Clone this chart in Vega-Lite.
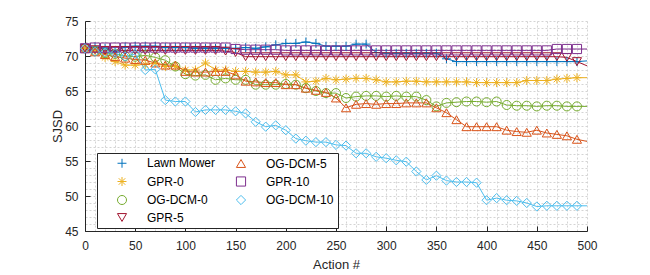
{
  "$schema": "https://vega.github.io/schema/vega-lite/v6.json",
  "width": 502,
  "height": 210,
  "autosize": {"type": "none"},
  "padding": {"left": 85, "top": 21, "right": 63, "bottom": 44},
  "background": "white",
  "config": {"view": {"stroke": null}, "font": "Liberation Sans"},
  "data": {"values": [
    {"s":"Lawn Mower","x":0,"y":71.1},{"s":"Lawn Mower","x":10,"y":71.3},{"s":"Lawn Mower","x":20,"y":71.1},{"s":"Lawn Mower","x":30,"y":70.6},{"s":"Lawn Mower","x":40,"y":71.3},{"s":"Lawn Mower","x":50,"y":71.4},{"s":"Lawn Mower","x":60,"y":71.4},{"s":"Lawn Mower","x":70,"y":71.4},{"s":"Lawn Mower","x":80,"y":71.2},{"s":"Lawn Mower","x":90,"y":71.2},{"s":"Lawn Mower","x":100,"y":71.2},{"s":"Lawn Mower","x":110,"y":71.1},{"s":"Lawn Mower","x":120,"y":71.1},{"s":"Lawn Mower","x":130,"y":71.1},{"s":"Lawn Mower","x":140,"y":71.1},{"s":"Lawn Mower","x":150,"y":71.1},{"s":"Lawn Mower","x":160,"y":71.2},{"s":"Lawn Mower","x":170,"y":71.1},{"s":"Lawn Mower","x":180,"y":71.3},{"s":"Lawn Mower","x":190,"y":71.6},{"s":"Lawn Mower","x":200,"y":71.8},{"s":"Lawn Mower","x":210,"y":71.8},{"s":"Lawn Mower","x":220,"y":72.0},{"s":"Lawn Mower","x":230,"y":71.8},{"s":"Lawn Mower","x":240,"y":71.4},{"s":"Lawn Mower","x":250,"y":71.4},{"s":"Lawn Mower","x":260,"y":71.4},{"s":"Lawn Mower","x":270,"y":71.7},{"s":"Lawn Mower","x":280,"y":71.7},{"s":"Lawn Mower","x":290,"y":70.5},{"s":"Lawn Mower","x":300,"y":70.4},{"s":"Lawn Mower","x":310,"y":70.4},{"s":"Lawn Mower","x":320,"y":70.4},{"s":"Lawn Mower","x":330,"y":70.4},{"s":"Lawn Mower","x":340,"y":70.4},{"s":"Lawn Mower","x":350,"y":70.4},{"s":"Lawn Mower","x":360,"y":69.6},{"s":"Lawn Mower","x":370,"y":69.2},{"s":"Lawn Mower","x":380,"y":69.2},{"s":"Lawn Mower","x":390,"y":69.2},{"s":"Lawn Mower","x":400,"y":69.2},{"s":"Lawn Mower","x":410,"y":69.2},{"s":"Lawn Mower","x":420,"y":69.2},{"s":"Lawn Mower","x":430,"y":69.2},{"s":"Lawn Mower","x":440,"y":69.2},{"s":"Lawn Mower","x":450,"y":69.2},{"s":"Lawn Mower","x":460,"y":69.2},{"s":"Lawn Mower","x":470,"y":69.2},{"s":"Lawn Mower","x":480,"y":69.2},{"s":"Lawn Mower","x":490,"y":69.2},{"s":"Lawn Mower","x":500,"y":69.3},
    {"s":"GPR-0","x":0,"y":71.1},{"s":"GPR-0","x":10,"y":70.7},{"s":"GPR-0","x":20,"y":69.8},{"s":"GPR-0","x":30,"y":69.2},{"s":"GPR-0","x":40,"y":68.7},{"s":"GPR-0","x":50,"y":68.7},{"s":"GPR-0","x":60,"y":68.8},{"s":"GPR-0","x":70,"y":69.0},{"s":"GPR-0","x":80,"y":68.5},{"s":"GPR-0","x":90,"y":68.5},{"s":"GPR-0","x":100,"y":68.0},{"s":"GPR-0","x":110,"y":68.0},{"s":"GPR-0","x":120,"y":69.0},{"s":"GPR-0","x":130,"y":68.0},{"s":"GPR-0","x":140,"y":68.0},{"s":"GPR-0","x":150,"y":67.8},{"s":"GPR-0","x":160,"y":67.8},{"s":"GPR-0","x":170,"y":67.7},{"s":"GPR-0","x":180,"y":67.7},{"s":"GPR-0","x":190,"y":67.8},{"s":"GPR-0","x":200,"y":67.3},{"s":"GPR-0","x":210,"y":67.3},{"s":"GPR-0","x":220,"y":66.3},{"s":"GPR-0","x":230,"y":66.4},{"s":"GPR-0","x":240,"y":66.8},{"s":"GPR-0","x":250,"y":66.6},{"s":"GPR-0","x":260,"y":66.7},{"s":"GPR-0","x":270,"y":66.8},{"s":"GPR-0","x":280,"y":66.8},{"s":"GPR-0","x":290,"y":66.6},{"s":"GPR-0","x":300,"y":66.3},{"s":"GPR-0","x":310,"y":66.3},{"s":"GPR-0","x":320,"y":66.4},{"s":"GPR-0","x":330,"y":66.4},{"s":"GPR-0","x":340,"y":66.3},{"s":"GPR-0","x":350,"y":66.3},{"s":"GPR-0","x":360,"y":66.3},{"s":"GPR-0","x":370,"y":66.3},{"s":"GPR-0","x":380,"y":66.3},{"s":"GPR-0","x":390,"y":66.2},{"s":"GPR-0","x":400,"y":66.2},{"s":"GPR-0","x":410,"y":66.2},{"s":"GPR-0","x":420,"y":66.2},{"s":"GPR-0","x":430,"y":66.2},{"s":"GPR-0","x":440,"y":66.5},{"s":"GPR-0","x":450,"y":66.5},{"s":"GPR-0","x":460,"y":66.5},{"s":"GPR-0","x":470,"y":66.7},{"s":"GPR-0","x":480,"y":66.8},{"s":"GPR-0","x":490,"y":66.9},{"s":"GPR-0","x":500,"y":66.9},
    {"s":"OG-DCM-0","x":0,"y":71.1},{"s":"OG-DCM-0","x":10,"y":70.7},{"s":"OG-DCM-0","x":20,"y":70.4},{"s":"OG-DCM-0","x":30,"y":70.3},{"s":"OG-DCM-0","x":40,"y":70.0},{"s":"OG-DCM-0","x":50,"y":69.9},{"s":"OG-DCM-0","x":60,"y":70.1},{"s":"OG-DCM-0","x":70,"y":69.8},{"s":"OG-DCM-0","x":80,"y":69.4},{"s":"OG-DCM-0","x":90,"y":68.5},{"s":"OG-DCM-0","x":100,"y":67.4},{"s":"OG-DCM-0","x":110,"y":67.2},{"s":"OG-DCM-0","x":120,"y":67.3},{"s":"OG-DCM-0","x":130,"y":66.6},{"s":"OG-DCM-0","x":140,"y":66.8},{"s":"OG-DCM-0","x":150,"y":66.6},{"s":"OG-DCM-0","x":160,"y":66.6},{"s":"OG-DCM-0","x":170,"y":65.9},{"s":"OG-DCM-0","x":180,"y":65.9},{"s":"OG-DCM-0","x":190,"y":65.9},{"s":"OG-DCM-0","x":200,"y":66.0},{"s":"OG-DCM-0","x":210,"y":65.9},{"s":"OG-DCM-0","x":220,"y":65.4},{"s":"OG-DCM-0","x":230,"y":65.0},{"s":"OG-DCM-0","x":240,"y":64.7},{"s":"OG-DCM-0","x":250,"y":64.7},{"s":"OG-DCM-0","x":260,"y":64.0},{"s":"OG-DCM-0","x":270,"y":64.2},{"s":"OG-DCM-0","x":280,"y":64.3},{"s":"OG-DCM-0","x":290,"y":64.3},{"s":"OG-DCM-0","x":300,"y":64.2},{"s":"OG-DCM-0","x":310,"y":64.3},{"s":"OG-DCM-0","x":320,"y":64.2},{"s":"OG-DCM-0","x":330,"y":64.2},{"s":"OG-DCM-0","x":340,"y":63.7},{"s":"OG-DCM-0","x":350,"y":62.8},{"s":"OG-DCM-0","x":360,"y":63.3},{"s":"OG-DCM-0","x":370,"y":63.4},{"s":"OG-DCM-0","x":380,"y":63.5},{"s":"OG-DCM-0","x":390,"y":63.5},{"s":"OG-DCM-0","x":400,"y":63.4},{"s":"OG-DCM-0","x":410,"y":63.5},{"s":"OG-DCM-0","x":420,"y":63.0},{"s":"OG-DCM-0","x":430,"y":62.9},{"s":"OG-DCM-0","x":440,"y":62.9},{"s":"OG-DCM-0","x":450,"y":62.8},{"s":"OG-DCM-0","x":460,"y":62.9},{"s":"OG-DCM-0","x":470,"y":62.9},{"s":"OG-DCM-0","x":480,"y":62.8},{"s":"OG-DCM-0","x":490,"y":62.8},{"s":"OG-DCM-0","x":500,"y":62.8},
    {"s":"GPR-5","x":0,"y":71.1},{"s":"GPR-5","x":10,"y":70.9},{"s":"GPR-5","x":20,"y":70.8},{"s":"GPR-5","x":30,"y":70.8},{"s":"GPR-5","x":40,"y":70.8},{"s":"GPR-5","x":50,"y":70.8},{"s":"GPR-5","x":60,"y":70.8},{"s":"GPR-5","x":70,"y":70.8},{"s":"GPR-5","x":80,"y":70.8},{"s":"GPR-5","x":90,"y":70.8},{"s":"GPR-5","x":100,"y":70.8},{"s":"GPR-5","x":110,"y":70.8},{"s":"GPR-5","x":120,"y":70.8},{"s":"GPR-5","x":130,"y":70.8},{"s":"GPR-5","x":140,"y":70.7},{"s":"GPR-5","x":150,"y":70.5},{"s":"GPR-5","x":160,"y":69.9},{"s":"GPR-5","x":170,"y":69.9},{"s":"GPR-5","x":180,"y":69.9},{"s":"GPR-5","x":190,"y":69.9},{"s":"GPR-5","x":200,"y":69.9},{"s":"GPR-5","x":210,"y":69.9},{"s":"GPR-5","x":220,"y":69.9},{"s":"GPR-5","x":230,"y":69.9},{"s":"GPR-5","x":240,"y":69.9},{"s":"GPR-5","x":250,"y":69.9},{"s":"GPR-5","x":260,"y":69.9},{"s":"GPR-5","x":270,"y":69.9},{"s":"GPR-5","x":280,"y":69.9},{"s":"GPR-5","x":290,"y":69.9},{"s":"GPR-5","x":300,"y":69.9},{"s":"GPR-5","x":310,"y":69.9},{"s":"GPR-5","x":320,"y":69.9},{"s":"GPR-5","x":330,"y":69.9},{"s":"GPR-5","x":340,"y":69.9},{"s":"GPR-5","x":350,"y":69.9},{"s":"GPR-5","x":360,"y":69.9},{"s":"GPR-5","x":370,"y":69.9},{"s":"GPR-5","x":380,"y":69.9},{"s":"GPR-5","x":390,"y":69.9},{"s":"GPR-5","x":400,"y":69.9},{"s":"GPR-5","x":410,"y":69.9},{"s":"GPR-5","x":420,"y":69.9},{"s":"GPR-5","x":430,"y":69.9},{"s":"GPR-5","x":440,"y":69.9},{"s":"GPR-5","x":450,"y":69.9},{"s":"GPR-5","x":460,"y":69.9},{"s":"GPR-5","x":470,"y":69.9},{"s":"GPR-5","x":480,"y":69.8},{"s":"GPR-5","x":490,"y":69.2},{"s":"GPR-5","x":500,"y":68.6},
    {"s":"OG-DCM-5","x":0,"y":71.1},{"s":"OG-DCM-5","x":10,"y":70.6},{"s":"OG-DCM-5","x":20,"y":70.2},{"s":"OG-DCM-5","x":30,"y":69.9},{"s":"OG-DCM-5","x":40,"y":69.7},{"s":"OG-DCM-5","x":50,"y":69.5},{"s":"OG-DCM-5","x":60,"y":69.4},{"s":"OG-DCM-5","x":70,"y":69.0},{"s":"OG-DCM-5","x":80,"y":68.7},{"s":"OG-DCM-5","x":90,"y":68.7},{"s":"OG-DCM-5","x":100,"y":67.8},{"s":"OG-DCM-5","x":110,"y":67.7},{"s":"OG-DCM-5","x":120,"y":67.7},{"s":"OG-DCM-5","x":130,"y":67.8},{"s":"OG-DCM-5","x":140,"y":67.8},{"s":"OG-DCM-5","x":150,"y":67.3},{"s":"OG-DCM-5","x":160,"y":66.4},{"s":"OG-DCM-5","x":170,"y":66.3},{"s":"OG-DCM-5","x":180,"y":66.2},{"s":"OG-DCM-5","x":190,"y":66.2},{"s":"OG-DCM-5","x":200,"y":65.9},{"s":"OG-DCM-5","x":210,"y":65.9},{"s":"OG-DCM-5","x":220,"y":65.4},{"s":"OG-DCM-5","x":230,"y":65.1},{"s":"OG-DCM-5","x":240,"y":64.8},{"s":"OG-DCM-5","x":250,"y":64.0},{"s":"OG-DCM-5","x":260,"y":62.6},{"s":"OG-DCM-5","x":270,"y":63.1},{"s":"OG-DCM-5","x":280,"y":63.2},{"s":"OG-DCM-5","x":290,"y":63.1},{"s":"OG-DCM-5","x":300,"y":63.2},{"s":"OG-DCM-5","x":310,"y":63.2},{"s":"OG-DCM-5","x":320,"y":63.3},{"s":"OG-DCM-5","x":330,"y":63.3},{"s":"OG-DCM-5","x":340,"y":63.3},{"s":"OG-DCM-5","x":350,"y":62.6},{"s":"OG-DCM-5","x":360,"y":61.9},{"s":"OG-DCM-5","x":370,"y":60.9},{"s":"OG-DCM-5","x":380,"y":59.9},{"s":"OG-DCM-5","x":390,"y":59.9},{"s":"OG-DCM-5","x":400,"y":59.9},{"s":"OG-DCM-5","x":410,"y":59.9},{"s":"OG-DCM-5","x":420,"y":59.4},{"s":"OG-DCM-5","x":430,"y":59.2},{"s":"OG-DCM-5","x":440,"y":59.1},{"s":"OG-DCM-5","x":450,"y":59.4},{"s":"OG-DCM-5","x":460,"y":59.0},{"s":"OG-DCM-5","x":470,"y":58.8},{"s":"OG-DCM-5","x":480,"y":58.6},{"s":"OG-DCM-5","x":490,"y":58.1},{"s":"OG-DCM-5","x":500,"y":57.8},
    {"s":"GPR-10","x":0,"y":71.1},{"s":"GPR-10","x":10,"y":71.2},{"s":"GPR-10","x":20,"y":71.2},{"s":"GPR-10","x":30,"y":71.2},{"s":"GPR-10","x":40,"y":71.2},{"s":"GPR-10","x":50,"y":71.2},{"s":"GPR-10","x":60,"y":71.2},{"s":"GPR-10","x":70,"y":71.2},{"s":"GPR-10","x":80,"y":71.2},{"s":"GPR-10","x":90,"y":71.2},{"s":"GPR-10","x":100,"y":71.2},{"s":"GPR-10","x":110,"y":71.2},{"s":"GPR-10","x":120,"y":71.2},{"s":"GPR-10","x":130,"y":71.2},{"s":"GPR-10","x":140,"y":71.2},{"s":"GPR-10","x":150,"y":71.0},{"s":"GPR-10","x":160,"y":70.9},{"s":"GPR-10","x":170,"y":70.9},{"s":"GPR-10","x":180,"y":70.9},{"s":"GPR-10","x":190,"y":70.9},{"s":"GPR-10","x":200,"y":70.8},{"s":"GPR-10","x":210,"y":70.8},{"s":"GPR-10","x":220,"y":70.8},{"s":"GPR-10","x":230,"y":70.8},{"s":"GPR-10","x":240,"y":70.8},{"s":"GPR-10","x":250,"y":70.8},{"s":"GPR-10","x":260,"y":70.8},{"s":"GPR-10","x":270,"y":70.8},{"s":"GPR-10","x":280,"y":70.8},{"s":"GPR-10","x":290,"y":70.8},{"s":"GPR-10","x":300,"y":70.8},{"s":"GPR-10","x":310,"y":70.8},{"s":"GPR-10","x":320,"y":70.8},{"s":"GPR-10","x":330,"y":70.8},{"s":"GPR-10","x":340,"y":70.8},{"s":"GPR-10","x":350,"y":70.8},{"s":"GPR-10","x":360,"y":70.8},{"s":"GPR-10","x":370,"y":70.8},{"s":"GPR-10","x":380,"y":70.8},{"s":"GPR-10","x":390,"y":70.8},{"s":"GPR-10","x":400,"y":70.8},{"s":"GPR-10","x":410,"y":70.8},{"s":"GPR-10","x":420,"y":70.8},{"s":"GPR-10","x":430,"y":70.8},{"s":"GPR-10","x":440,"y":70.8},{"s":"GPR-10","x":450,"y":70.8},{"s":"GPR-10","x":460,"y":70.8},{"s":"GPR-10","x":470,"y":71.0},{"s":"GPR-10","x":480,"y":71.0},{"s":"GPR-10","x":490,"y":71.0},{"s":"GPR-10","x":500,"y":71.0},
    {"s":"OG-DCM-10","x":0,"y":71.1},{"s":"OG-DCM-10","x":10,"y":70.6},{"s":"OG-DCM-10","x":20,"y":70.5},{"s":"OG-DCM-10","x":30,"y":70.4},{"s":"OG-DCM-10","x":40,"y":69.9},{"s":"OG-DCM-10","x":50,"y":70.3},{"s":"OG-DCM-10","x":60,"y":68.0},{"s":"OG-DCM-10","x":70,"y":68.1},{"s":"OG-DCM-10","x":80,"y":63.7},{"s":"OG-DCM-10","x":90,"y":63.5},{"s":"OG-DCM-10","x":100,"y":63.5},{"s":"OG-DCM-10","x":110,"y":62.0},{"s":"OG-DCM-10","x":120,"y":62.3},{"s":"OG-DCM-10","x":130,"y":62.3},{"s":"OG-DCM-10","x":140,"y":62.3},{"s":"OG-DCM-10","x":150,"y":62.1},{"s":"OG-DCM-10","x":160,"y":61.8},{"s":"OG-DCM-10","x":170,"y":60.6},{"s":"OG-DCM-10","x":180,"y":59.9},{"s":"OG-DCM-10","x":190,"y":60.1},{"s":"OG-DCM-10","x":200,"y":59.4},{"s":"OG-DCM-10","x":210,"y":58.2},{"s":"OG-DCM-10","x":220,"y":57.9},{"s":"OG-DCM-10","x":230,"y":57.7},{"s":"OG-DCM-10","x":240,"y":57.7},{"s":"OG-DCM-10","x":250,"y":57.3},{"s":"OG-DCM-10","x":260,"y":57.2},{"s":"OG-DCM-10","x":270,"y":56.1},{"s":"OG-DCM-10","x":280,"y":56.1},{"s":"OG-DCM-10","x":290,"y":55.6},{"s":"OG-DCM-10","x":300,"y":55.4},{"s":"OG-DCM-10","x":310,"y":55.1},{"s":"OG-DCM-10","x":320,"y":54.9},{"s":"OG-DCM-10","x":330,"y":53.5},{"s":"OG-DCM-10","x":340,"y":52.3},{"s":"OG-DCM-10","x":350,"y":52.9},{"s":"OG-DCM-10","x":360,"y":52.2},{"s":"OG-DCM-10","x":370,"y":52.0},{"s":"OG-DCM-10","x":380,"y":52.0},{"s":"OG-DCM-10","x":390,"y":51.9},{"s":"OG-DCM-10","x":400,"y":49.4},{"s":"OG-DCM-10","x":410,"y":49.7},{"s":"OG-DCM-10","x":420,"y":49.4},{"s":"OG-DCM-10","x":430,"y":49.3},{"s":"OG-DCM-10","x":440,"y":49.0},{"s":"OG-DCM-10","x":450,"y":48.5},{"s":"OG-DCM-10","x":460,"y":48.6},{"s":"OG-DCM-10","x":470,"y":48.6},{"s":"OG-DCM-10","x":480,"y":48.6},{"s":"OG-DCM-10","x":490,"y":48.6},{"s":"OG-DCM-10","x":500,"y":48.6}
  ]},
  "encoding": {
    "x": {"field": "x", "type": "quantitative",
      "scale": {"domain": [0, 500], "nice": false, "zero": false},
      "axis": {"values": [0,10,20,30,40,50,60,70,80,90,100,110,120,130,140,150,160,170,180,190,200,210,220,230,240,250,260,270,280,290,300,310,320,330,340,350,360,370,380,390,400,410,420,430,440,450,460,470,480,490,500],
        "labelExpr": "datum.value % 50 === 0 ? datum.label : ''",
        "labelOverlap": false, "labelFlush": false, "labelBound": false,
        "grid": true, "gridDash": [2, 2], "gridColor": "#d4d4d4", "gridWidth": 1,
        "domainColor": "#262626", "tickColor": "#262626", "tickSize": -5,
        "tickOpacity": {"condition": {"test": "datum.value % 50 === 0", "value": 1}, "value": 0},
        "labelPadding": 14, "labelFontSize": 12, "labelColor": "#262626", "labelFont": "Liberation Sans",
        "title": "Action #", "titleFontSize": 13, "titleFontWeight": "normal", "titleColor": "#262626", "titleFont": "Liberation Sans", "titlePadding": 7}},
    "y": {"field": "y", "type": "quantitative",
      "scale": {"domain": [45, 75], "nice": false, "zero": false},
      "axis": {"values": [45,46,47,48,49,50,51,52,53,54,55,56,57,58,59,60,61,62,63,64,65,66,67,68,69,70,71,72,73,74,75],
        "labelExpr": "datum.value % 5 === 0 ? datum.label : ''",
        "labelOverlap": false, "labelFlush": false, "labelBound": false,
        "grid": true, "gridDash": [2, 2], "gridColor": "#d4d4d4", "gridWidth": 1,
        "domainColor": "#262626", "tickColor": "#262626", "tickSize": -5,
        "tickOpacity": {"condition": {"test": "datum.value % 5 === 0", "value": 1}, "value": 0},
        "labelPadding": 12, "labelFontSize": 12, "labelColor": "#262626", "labelFont": "Liberation Sans",
        "title": "SJSD", "titleFontSize": 13, "titleFontWeight": "normal", "titleColor": "#262626", "titleFont": "Liberation Sans", "titlePadding": 0}},
    "color": {"field": "s", "type": "nominal",
      "scale": {"domain": ["Lawn Mower","GPR-0","OG-DCM-0","GPR-5","OG-DCM-5","GPR-10","OG-DCM-10"],
                "range": ["#0072BD","#EDB120","#77AC30","#A2142F","#D95319","#7E2F8E","#4DBEEE"]},
      "legend": {"orient": "none", "legendX": 12, "legendY": 132, "columns": 2, "title": null,
        "strokeColor": "#262626", "fillColor": "white", "padding": 4,
        "symbolOffset": 15, "labelOffset": 19, "columnPadding": 4, "rowPadding": 4.5,
        "symbolSize": 48, "symbolStrokeWidth": 1, "labelFontSize": 12, "labelFont": "Liberation Sans", "labelColor": "#000000"}}
  },
  "layer": [
    {"mark": {"type": "line", "strokeWidth": 1}, "encoding": {"detail": {"field": "s"}}},
    {"transform": [{"filter": "datum.x < 500"}],
     "mark": {"type": "point", "filled": false, "strokeWidth": 1, "opacity": 1},
     "encoding": {
       "shape": {"field": "s", "type": "nominal",
         "scale": {"domain": ["Lawn Mower","GPR-0","OG-DCM-0","GPR-5","OG-DCM-5","GPR-10","OG-DCM-10"],
                   "range": ["M-1,0L1,0M0,-1L0,1","M-1,0L1,0M0,-1L0,1M-0.72,-0.72L0.72,0.72M-0.72,0.72L0.72,-0.72","circle","triangle-down","triangle-up","square","diamond"]},
         "legend": {"orient": "none", "legendX": 12, "legendY": 132, "columns": 2, "title": null,
           "strokeColor": "#262626", "fillColor": "white", "padding": 4,
           "symbolOffset": 15, "labelOffset": 19, "columnPadding": 4, "rowPadding": 4.5,
           "symbolSize": 48, "symbolStrokeWidth": 1, "labelFontSize": 12, "labelFont": "Liberation Sans", "labelColor": "#000000"}},
       "size": {"field": "s", "type": "nominal",
         "scale": {"domain": ["Lawn Mower","GPR-0","OG-DCM-0","GPR-5","OG-DCM-5","GPR-10","OG-DCM-10"],
                   "range": [80, 85, 66, 75, 75, 40, 85]},
         "legend": null}
     }}
  ]
}
